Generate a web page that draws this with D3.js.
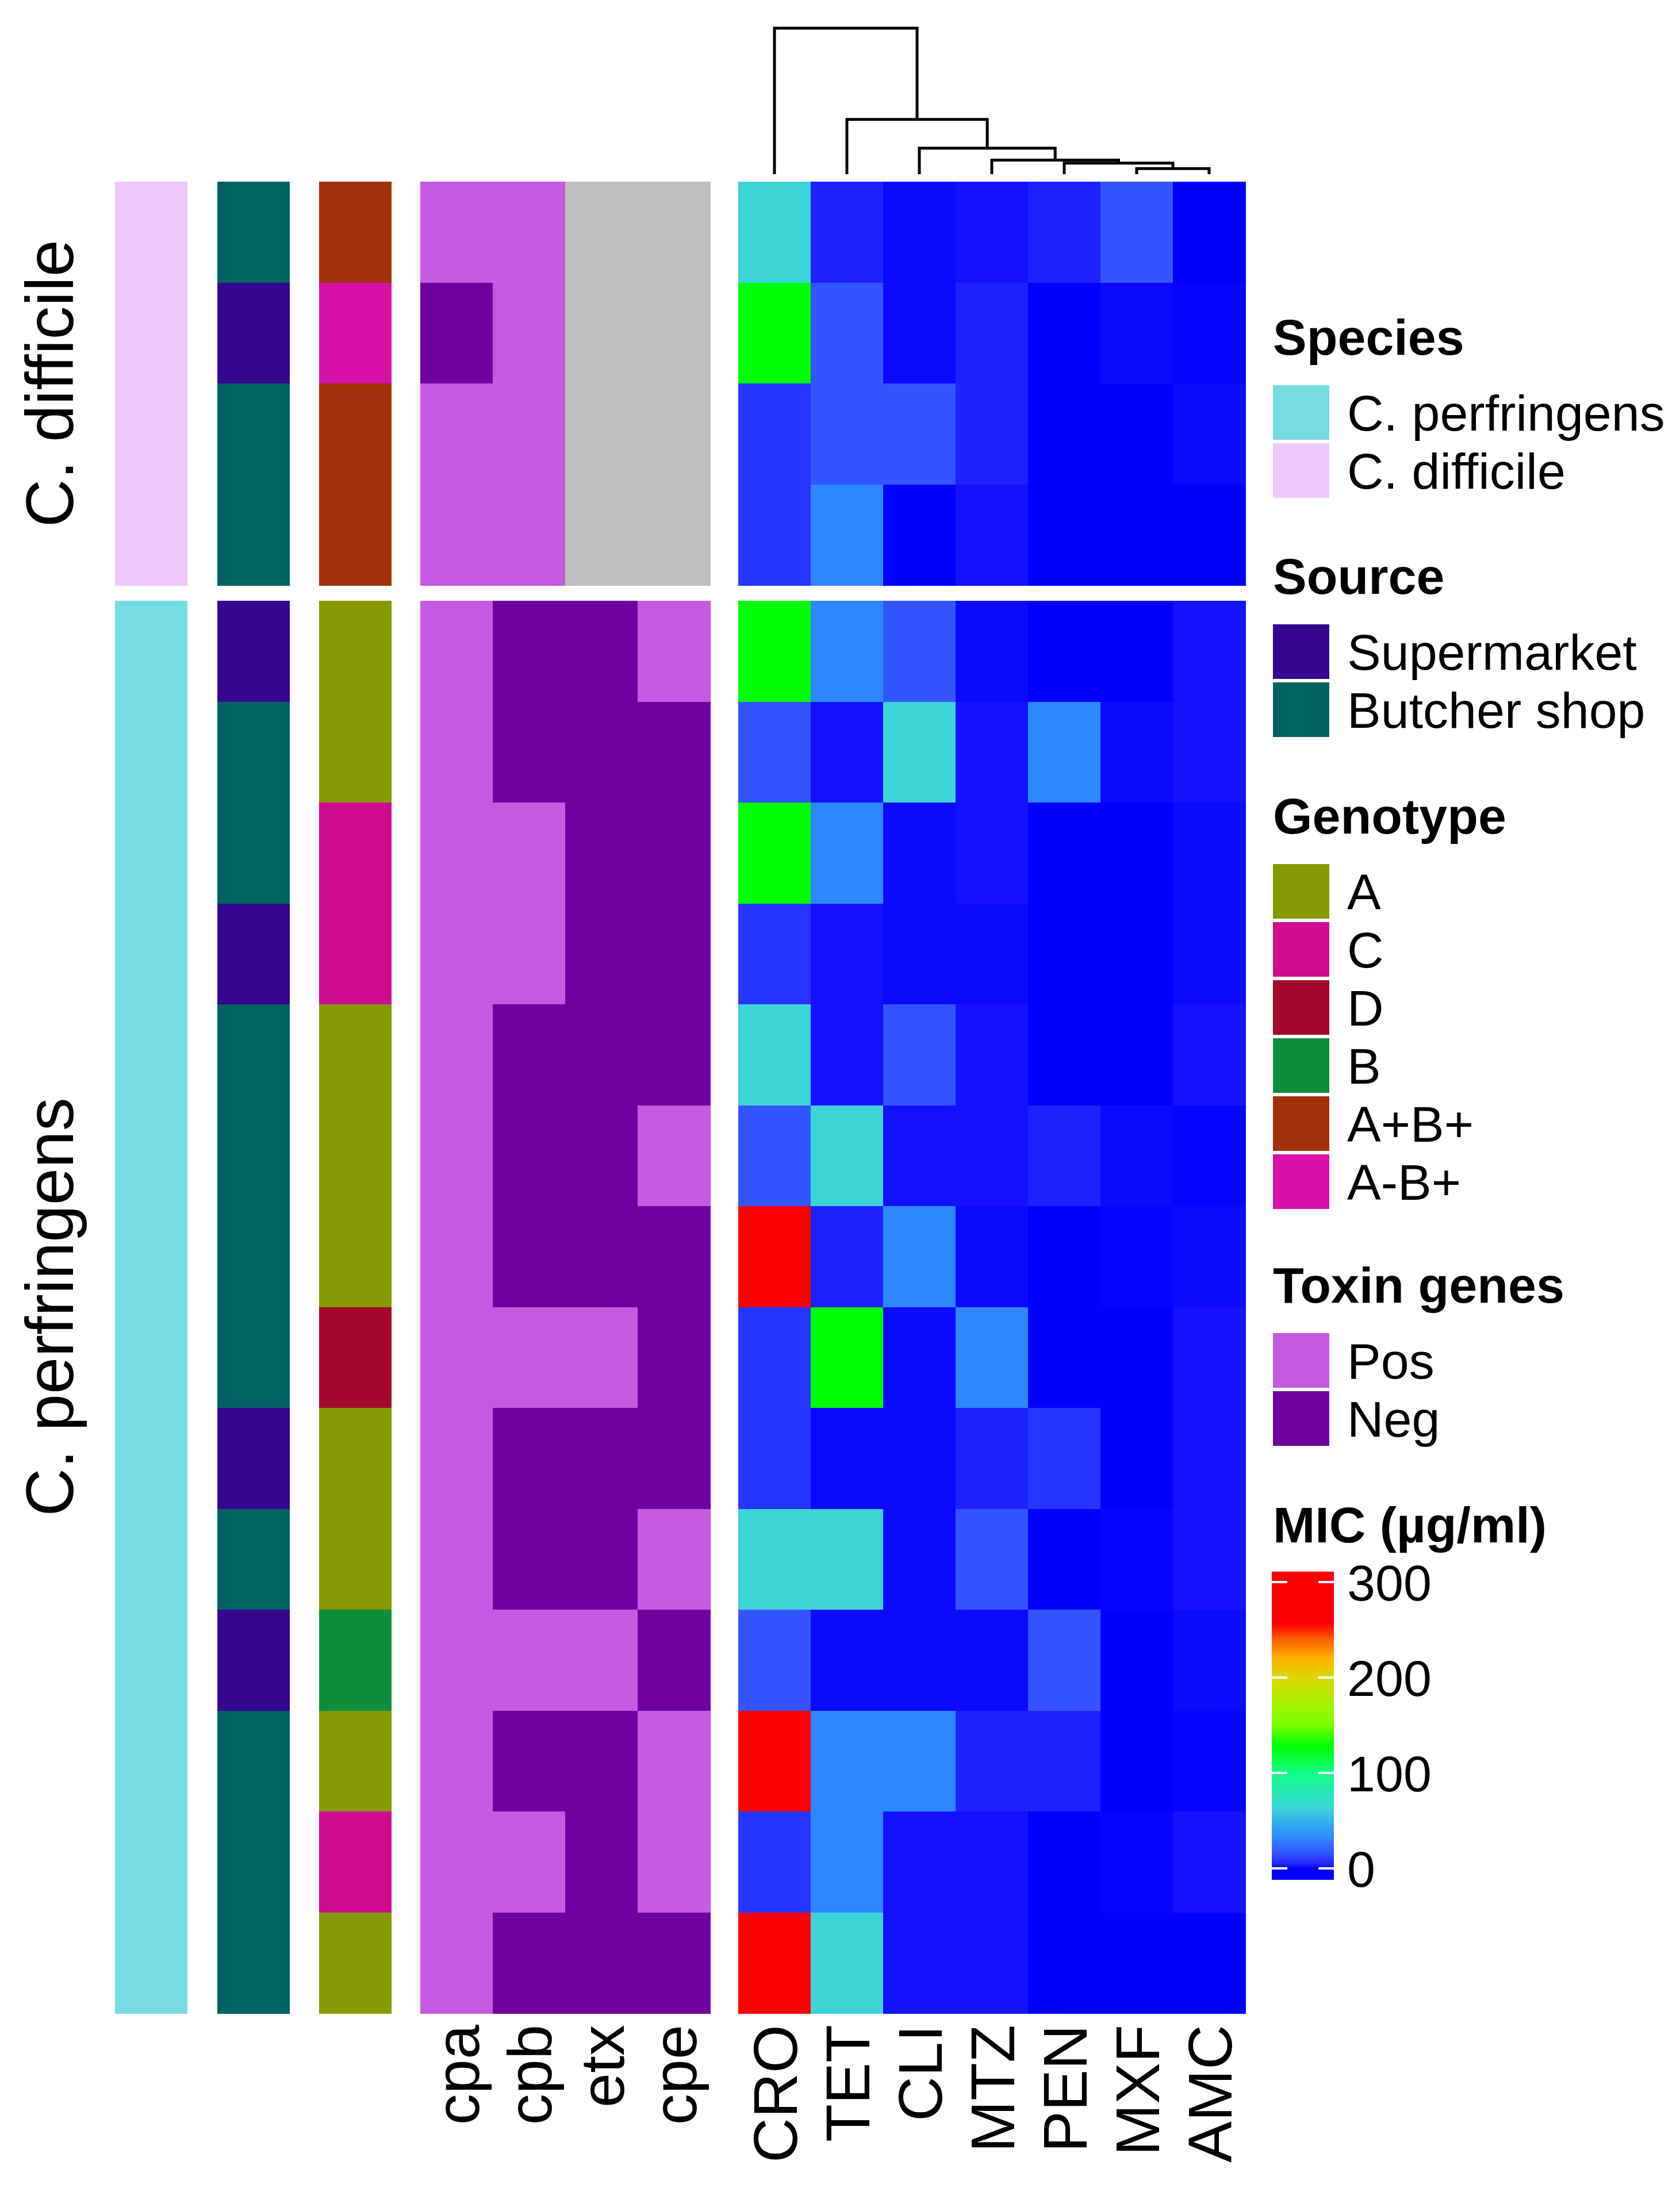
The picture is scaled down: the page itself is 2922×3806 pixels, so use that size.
<!DOCTYPE html>
<html><head><meta charset="utf-8">
<script src="https://cdn.jsdelivr.net/npm/d3@7"></script>
<style>
body{margin:0;background:#fff}
svg{display:block}
text{font-family:"Liberation Sans",Arial,Helvetica,sans-serif;fill:#000}
</style>
</head><body>
<svg id="chart" width="2922" height="3806"></svg>
<script>
// ---------------- DATA ----------------
const antibiotics = ["CRO","TET","CLI","MTZ","PEN","MXF","AMC"];
const toxinGenes = ["cpa","cpb","etx","cpe"];
const groupNames = ["C. difficile","C. perfringens"];
const groupSizes = [4, 14];

const species = ["C. difficile","C. difficile","C. difficile","C. difficile",
  "C. perfringens","C. perfringens","C. perfringens","C. perfringens","C. perfringens","C. perfringens","C. perfringens",
  "C. perfringens","C. perfringens","C. perfringens","C. perfringens","C. perfringens","C. perfringens","C. perfringens"];
const source = ["Butcher shop","Supermarket","Butcher shop","Butcher shop",
  "Supermarket","Butcher shop","Butcher shop","Supermarket","Butcher shop","Butcher shop","Butcher shop",
  "Butcher shop","Supermarket","Butcher shop","Supermarket","Butcher shop","Butcher shop","Butcher shop"];
const genotype = ["A+B+","A-B+","A+B+","A+B+",
  "A","A","C","C","A","A","A","D","A","A","B","A","C","A"];
// toxin genes: cpa, cpb, etx, cpe  (null = not applicable)
const toxin = [
  ["Pos","Pos",null,null],
  ["Neg","Pos",null,null],
  ["Pos","Pos",null,null],
  ["Pos","Pos",null,null],
  ["Pos","Neg","Neg","Pos"],
  ["Pos","Neg","Neg","Neg"],
  ["Pos","Pos","Neg","Neg"],
  ["Pos","Pos","Neg","Neg"],
  ["Pos","Neg","Neg","Neg"],
  ["Pos","Neg","Neg","Pos"],
  ["Pos","Neg","Neg","Neg"],
  ["Pos","Pos","Pos","Neg"],
  ["Pos","Neg","Neg","Neg"],
  ["Pos","Neg","Neg","Pos"],
  ["Pos","Pos","Pos","Neg"],
  ["Pos","Neg","Neg","Pos"],
  ["Pos","Pos","Neg","Pos"],
  ["Pos","Neg","Neg","Neg"]
];
// MIC (µg/ml): CRO, TET, CLI, MTZ, PEN, MXF, AMC
const mic = [
  [64, 4, 1, 2, 4, 16, 0.25],
  [128, 16, 1, 4, 0.25, 1, 0.5],
  [8, 16, 16, 4, 0.25, 0.25, 1],
  [8, 32, 0.25, 2, 0.25, 0.25, 0.25],
  [128, 32, 16, 1, 0.25, 0.25, 2],
  [16, 2, 64, 2, 32, 1, 2],
  [128, 32, 1, 2, 0.25, 0.25, 1],
  [8, 2, 1, 1, 0.25, 0.25, 1],
  [64, 2, 16, 2, 0.25, 0.25, 2],
  [16, 64, 2, 2, 4, 1, 0.5],
  [256, 4, 32, 1, 0.25, 0.5, 1],
  [8, 128, 1, 32, 0.25, 0.25, 2],
  [8, 1, 1, 4, 8, 0.25, 2],
  [64, 64, 1, 16, 0.25, 0.5, 2],
  [16, 1, 1, 1, 16, 0.25, 1],
  [256, 32, 32, 4, 4, 0.25, 0.5],
  [8, 32, 2, 2, 0.25, 0.5, 2],
  [256, 64, 2, 2, 0.25, 0.25, 0.25]
];
// column dendrogram (hclust style: negative = leaf index (1-based), positive = earlier merge)
const dendroMerges = [[-6,-7],[-5,1],[-4,2],[-3,3],[-2,4],[-1,5]];
const dendroHeights = [0.038, 0.076, 0.096, 0.178, 0.375, 1.0];

const micTicks = [0, 100, 200, 300];
const micStops  = [-20, 0.25, 0.5, 1, 2, 4, 8, 16, 32, 64, 100, 128, 150, 175, 200, 220, 240, 256, 330];
const micColors = ["#0000ff","#0000ff","#0505ff","#0a0aff","#1212ff","#1e22ff","#2635ff","#3355ff","#2d88ff","#3bd5d8","#10ff88","#00ff00","#78ff00","#a8f000","#dcd800","#ffb000","#ff6000","#ff0000","#ff0000"];

const speciesLevels = ["C. perfringens","C. difficile"];
const speciesColors = ["#76dbe5","#eec8fc"];
const sourceLevels = ["Supermarket","Butcher shop"];
const sourceColors = ["#350690","#006262"];
const genotypeLevels = ["A","C","D","B","A+B+","A-B+"];
const genotypeColors = ["#869a06","#cf0c8c","#a4082a","#0c8e3a","#a3300a","#d812a6"];
const toxinLevels = ["Pos","Neg"];
const toxinColors = ["#c45ae0","#6f009f"];
const naColor = "#bebebe";

// ---------------- LAYOUT ----------------
const svg = d3.select("#chart");
const FONT_ROW = 116, FONT_COL = 108, FONT_LEG = 88;
const topY = 316, rowH = 175.5, groupGap = 27, cellW = 126;

const colorSpecies = d3.scaleOrdinal(speciesLevels, speciesColors);
const colorSource = d3.scaleOrdinal(sourceLevels, sourceColors);
const colorGeno = d3.scaleOrdinal(genotypeLevels, genotypeColors);
const colorToxin = d3.scaleOrdinal(toxinLevels, toxinColors).unknown(naColor);
const colorMic = d3.scaleLinear().domain(micStops).range(micColors).interpolate(d3.interpolateRgb).clamp(true);

const annX = d3.scaleBand().domain(["Species","Source","Genotype"]).range([200, 681]).paddingInner(51.5/177.5);
const toxX = d3.scaleBand().domain(toxinGenes).range([731, 731 + 4*cellW]);
const micX = d3.scaleBand().domain(antibiotics).range([1284, 1284 + 7*cellW]);

// row scales per group
let startY = topY;
const groupScales = groupSizes.map((n, g) => {
  const s = d3.scaleBand().domain(d3.range(n)).range([startY, startY + n*rowH]);
  startY += n*rowH + groupGap;
  return s;
});
const rows = [];
let idx = 0;
groupSizes.forEach((n, g) => { for (let k = 0; k < n; k++) rows.push({i: idx++, g, k}); });
const rowY = r => groupScales[r.g](r.k);
const bh = rowH;

// ---------- annotation bars ----------
const annoData = [
  {name:"Species", vals: species, col: colorSpecies},
  {name:"Source", vals: source, col: colorSource},
  {name:"Genotype", vals: genotype, col: colorGeno}
];
annoData.forEach(a => {
  svg.append("g").selectAll("rect").data(rows).join("rect")
    .attr("x", annX(a.name)).attr("width", annX.bandwidth())
    .attr("y", r => rowY(r)).attr("height", bh + 0.6)
    .attr("fill", r => a.col(a.vals[r.i]))
    .attr("shape-rendering","crispEdges");
});

// ---------- toxin heatmap ----------
const toxCells = [];
rows.forEach(r => toxinGenes.forEach((t, j) => toxCells.push({r, t, v: toxin[r.i][j]})));
svg.append("g").selectAll("rect").data(toxCells).join("rect")
  .attr("x", d => toxX(d.t)).attr("width", toxX.bandwidth() + 0.6)
  .attr("y", d => rowY(d.r)).attr("height", bh + 0.6)
  .attr("fill", d => d.v == null ? naColor : colorToxin(d.v))
  .attr("shape-rendering","crispEdges");

// ---------- MIC heatmap ----------
const micCells = [];
rows.forEach(r => antibiotics.forEach((a, j) => micCells.push({r, a, v: mic[r.i][j]})));
svg.append("g").selectAll("rect").data(micCells).join("rect")
  .attr("x", d => micX(d.a)).attr("width", micX.bandwidth() + 0.6)
  .attr("y", d => rowY(d.r)).attr("height", bh + 0.6)
  .attr("fill", d => colorMic(d.v))
  .attr("shape-rendering","crispEdges");

// ---------- dendrogram ----------
const dY = d3.scaleLinear().domain([0, d3.max(dendroHeights)]).range([303, 49]);
const nodeX = [], nodeH = [];
function childPos(c) {
  if (c < 0) { const a = antibiotics[-c-1]; return {x: micX(a) + micX.bandwidth()/2, h: 0}; }
  return {x: nodeX[c-1], h: nodeH[c-1]};
}
const dPaths = [];
dendroMerges.forEach((m, k) => {
  const a = childPos(m[0]), b = childPos(m[1]);
  const h = dendroHeights[k];
  nodeX[k] = (a.x + b.x)/2; nodeH[k] = h;
  dPaths.push(`M${a.x},${dY(a.h)}V${dY(h)}H${b.x}V${dY(b.h)}`);
});
svg.append("g").selectAll("path").data(dPaths).join("path")
  .attr("d", d => d).attr("fill","none").attr("stroke","#000").attr("stroke-width",5);

// ---------- row group labels ----------
svg.append("g").selectAll("text").data(groupNames).join("text")
  .attr("transform", (d, g) => {
    const s = groupScales[g]; const r = s.range();
    return `translate(127,${(r[0]+r[1])/2}) rotate(-90)`;
  })
  .attr("text-anchor","middle").attr("font-size", FONT_ROW).text(d => d);

// ---------- column labels ----------
const colLabelY = 3522;
const colLabels = toxinGenes.map(t => ({t, x: toxX(t) + toxX.bandwidth()/2}))
  .concat(antibiotics.map(a => ({t: a, x: micX(a) + micX.bandwidth()/2})));
svg.append("g").selectAll("text").data(colLabels).join("text")
  .attr("transform", d => `translate(${d.x},${colLabelY}) rotate(-90)`)
  .attr("text-anchor","end").attr("dy","0.36em").attr("font-size", FONT_COL).text(d => d.t);

// ---------- legends ----------
const legX = 2214, swW = 98, swH = 95, pitch = 101, labX = 2343;
const legends = [
  {title:"Species", levels: speciesLevels, colors: speciesColors, base: 617},
  {title:"Source", levels: sourceLevels, colors: sourceColors, base: 1033},
  {title:"Genotype", levels: genotypeLevels, colors: genotypeColors, base: 1450},
  {title:"Toxin genes", levels: toxinLevels, colors: toxinColors, base: 2266}
];
legends.forEach(L => {
  const g = svg.append("g");
  g.append("text").attr("x", legX).attr("y", L.base).attr("font-size", FONT_LEG)
    .attr("font-weight","bold").text(L.title);
  const ly = d3.scaleBand().domain(L.levels).range([L.base + 53, L.base + 53 + pitch*L.levels.length]);
  const col = d3.scaleOrdinal(L.levels, L.colors);
  g.selectAll("rect").data(L.levels).join("rect")
    .attr("x", legX).attr("width", swW).attr("y", d => ly(d)).attr("height", swH)
    .attr("fill", d => col(d));
  g.selectAll("text.lab").data(L.levels).join("text").attr("class","lab")
    .attr("x", labX).attr("y", d => ly(d) + swH/2).attr("dy","0.36em")
    .attr("font-size", FONT_LEG).text(d => d);
});

// MIC colour bar
const micTitleBase = 2683;
svg.append("text").attr("x", legX).attr("y", micTitleBase).attr("font-size", FONT_LEG)
  .attr("font-weight","bold").text("MIC (µg/ml)");
const legY = d3.scaleLinear().domain([0, 300]).range([3250, 2752]);
const barX0 = 2212, barX1 = 2320, vLow = -12, vHigh = 311;
const defs = svg.append("defs");
const grad = defs.append("linearGradient").attr("id","micgrad")
  .attr("x1",0).attr("y1",1).attr("x2",0).attr("y2",0);
const gradVals = d3.range(vLow, vHigh + 0.1, 1);
grad.selectAll("stop").data(gradVals).join("stop")
  .attr("offset", v => (v - vLow)/(vHigh - vLow))
  .attr("stop-color", v => colorMic(v));
svg.append("rect").attr("x", barX0).attr("width", barX1 - barX0)
  .attr("y", legY(vHigh)).attr("height", legY(vLow) - legY(vHigh))
  .attr("fill","url(#micgrad)");
const tg = svg.append("g");
tg.selectAll("line.l").data(micTicks).join("line").attr("class","l")
  .attr("x1", barX0).attr("x2", barX0 + 27).attr("y1", d => legY(d)).attr("y2", d => legY(d))
  .attr("stroke","#fff").attr("stroke-width",4);
tg.selectAll("line.r").data(micTicks).join("line").attr("class","r")
  .attr("x1", barX1 - 27).attr("x2", barX1).attr("y1", d => legY(d)).attr("y2", d => legY(d))
  .attr("stroke","#fff").attr("stroke-width",4);
tg.selectAll("text").data(micTicks).join("text")
  .attr("x", labX).attr("y", d => legY(d)).attr("dy","0.36em")
  .attr("font-size", FONT_LEG).text(d => d);
</script>
</body></html>
